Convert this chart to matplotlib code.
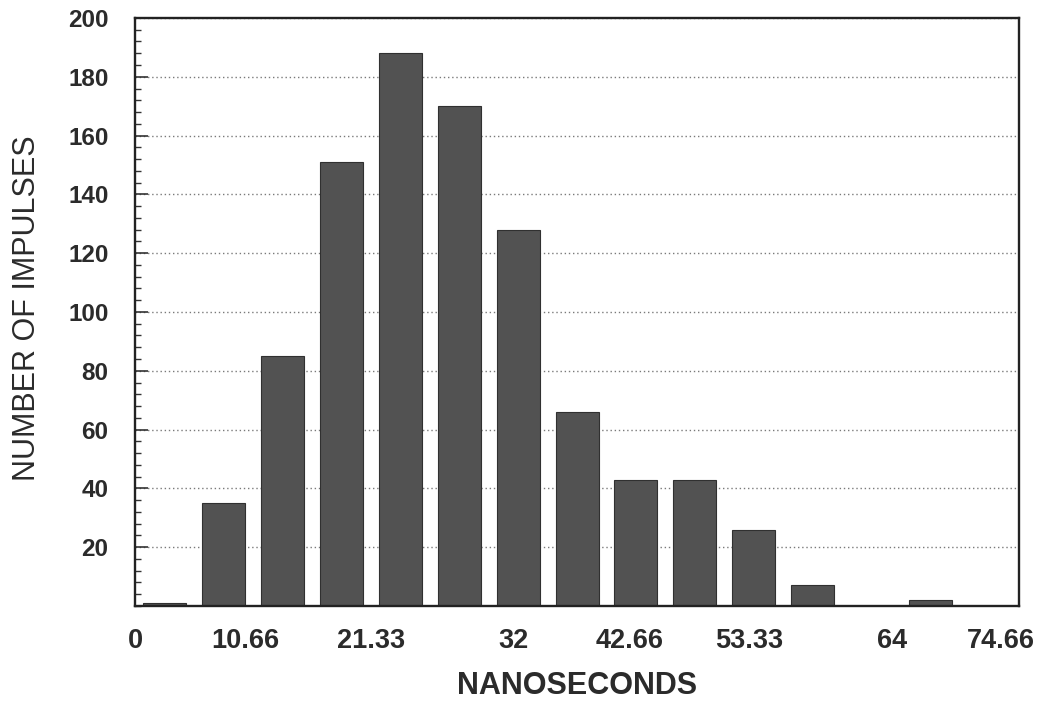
import matplotlib
matplotlib.use('Agg')
import matplotlib.pyplot as plt
from matplotlib.ticker import MultipleLocator

plt.rcParams['font.family'] = ['Liberation Sans', 'DejaVu Sans']

# pulse-width histogram: 15 bins of 5.33 ns
bin_width = 80 / 15
counts = [1, 35, 85, 151, 188, 170, 128, 66, 43, 43, 26, 7, 0, 2, 0]
x_labels = ['0', '10.66', '21.33', '32', '42.66', '53.33', '64', '74.66']
y_ticks = [20, 40, 60, 80, 100, 120, 140, 160, 180, 200]

# where the printed x labels sit, in bin units
label_bins = [0, 1.88, 4.0, 6.42, 8.39, 10.42, 12.85, 14.69]

text_color = '#2b2b2b'

fig = plt.figure(figsize=(10.44, 7.02), dpi=100)
ax = fig.add_axes([0.1293, 0.1368, 0.8468, 0.8376])

centers = [(i + 0.5) * bin_width for i in range(len(counts))]
ax.bar(centers, counts, width=0.73 * bin_width,
       color='#525252', edgecolor='#303030', linewidth=0.8, zorder=2)

ax.set_xlim(0, 15 * bin_width)
ax.set_ylim(0, 200)

ax.set_xticks([b * bin_width for b in label_bins])
ax.set_xticklabels(x_labels, fontsize=19.5, fontweight='bold', color=text_color)
ax.tick_params(axis='x', length=0, pad=16)

ax.set_yticks(y_ticks)
ax.set_yticklabels([str(v) for v in y_ticks], fontsize=17.5,
                   fontweight='bold', color=text_color)
ax.yaxis.set_minor_locator(MultipleLocator(4))
ax.tick_params(axis='y', which='major', direction='in', length=9,
               width=1.2, pad=19, colors='#333333')
ax.tick_params(axis='y', which='minor', direction='in', length=4,
               width=1.0, color='#333333')
for lab in ax.get_yticklabels():
    lab.set_color(text_color)

ax.yaxis.grid(True, which='major', linestyle=(0, (1, 2)),
              color='#7a7a7a', linewidth=1.0)
ax.set_axisbelow(True)

for side in ['left', 'right', 'top', 'bottom']:
    ax.spines[side].set_linewidth(1.7)
    ax.spines[side].set_color('#222222')

ax.set_xlabel('NANOSECONDS', fontsize=22, fontweight='bold',
              color=text_color, labelpad=12)
ax.set_ylabel('NUMBER OF IMPULSES', fontsize=22, color=text_color)
ax.yaxis.set_label_coords(-0.105, 0.507)

fig.savefig('out.png', dpi=100)
plt.close(fig)
